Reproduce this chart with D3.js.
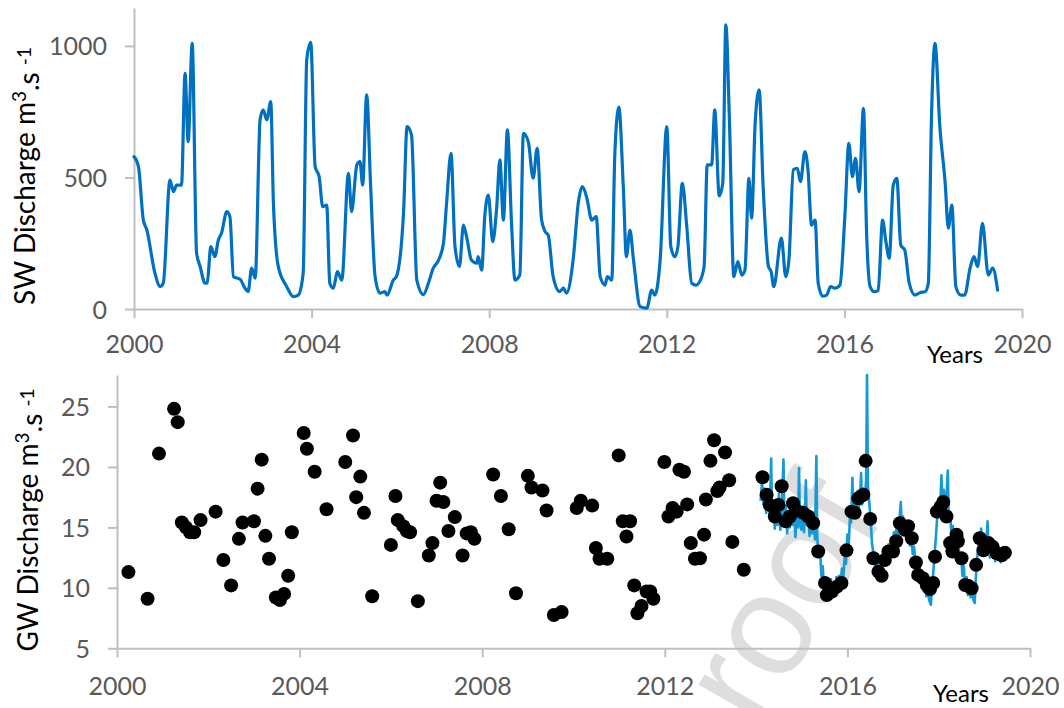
<!DOCTYPE html>
<html>
<head>
<meta charset="utf-8">
<script src="https://cdn.jsdelivr.net/npm/d3@7"></script>
<style>
  html, body { margin: 0; padding: 0; background: #fff; }
  svg { display: block; }
  text { font-family: Lato, "Open Sans", sans-serif; }
</style>
</head>
<body>
<svg id="chart" width="1064" height="708"></svg>
<script>
// ---------------- DATA ----------------
const xTickYears = [2000, 2004, 2008, 2012, 2016, 2020];
const swTicks = [0, 500, 1000];
const gwTicks = [5, 10, 15, 20, 25];

// Surface-water discharge (m3/s)
const swYears = [2000.00,2000.10,2000.21,2000.29,2000.47,2000.59,2000.66,2000.81,2000.89,2000.96,2001.07,2001.15,2001.22,2001.31,2001.41,2001.49,2001.60,2001.65,2001.73,2001.82,2001.90,2001.97,2002.09,2002.16,2002.24,2002.39,2002.50,2002.57,2002.65,2002.73,2002.84,2002.91,2002.99,2003.08,2003.14,2003.25,2003.44,2003.59,2003.70,2003.81,2003.89,2003.98,2004.08,2004.17,2004.25,2004.34,2004.41,2004.49,2004.58,2004.68,2004.83,2004.90,2005.02,2005.09,2005.15,2005.24,2005.33,2005.43,2005.54,2005.65,2005.70,2005.84,2005.91,2006.07,2006.15,2006.25,2006.37,2006.52,2006.63,2006.74,2006.86,2006.97,2007.04,2007.14,2007.23,2007.33,2007.42,2007.49,2007.60,2007.72,2007.75,2007.83,2007.90,2007.98,2008.08,2008.17,2008.24,2008.32,2008.41,2008.50,2008.58,2008.69,2008.77,2008.88,2008.99,2009.08,2009.18,2009.26,2009.33,2009.44,2009.59,2009.67,2009.74,2009.89,2010.01,2010.10,2010.20,2010.31,2010.41,2010.50,2010.61,2010.66,2010.76,2010.83,2010.92,2011.02,2011.09,2011.17,2011.25,2011.40,2011.55,2011.66,2011.73,2011.85,2012.00,2012.09,2012.18,2012.25,2012.35,2012.45,2012.56,2012.66,2012.74,2012.84,2012.91,2013.01,2013.08,2013.18,2013.26,2013.33,2013.41,2013.51,2013.60,2013.69,2013.76,2013.85,2013.91,2013.99,2014.08,2014.17,2014.29,2014.35,2014.41,2014.58,2014.68,2014.75,2014.85,2014.94,2015.01,2015.11,2015.18,2015.26,2015.34,2015.41,2015.51,2015.60,2015.69,2015.79,2015.90,2016.01,2016.10,2016.18,2016.25,2016.33,2016.43,2016.50,2016.58,2016.67,2016.76,2016.86,2016.93,2017.01,2017.10,2017.18,2017.27,2017.36,2017.46,2017.59,2017.70,2017.82,2017.89,2017.96,2018.04,2018.15,2018.27,2018.34,2018.42,2018.51,2018.62,2018.71,2018.83,2018.92,2019.00,2019.11,2019.24,2019.34,2019.45];
const swValues = [579,541,338,300,137,85,99,490,446,471,471,896,636,1010,212,161,98,100,237,199,262,288,370,351,123,113,79,66,155,117,719,757,719,788,403,161,85,47,53,136,947,1013,541,503,389,395,98,79,142,110,516,370,548,560,471,814,465,123,60,66,53,110,123,364,693,662,110,55,98,155,186,250,402,592,237,161,319,275,186,174,199,148,351,433,256,389,567,338,681,338,110,129,668,636,497,611,338,294,281,123,66,79,60,186,408,465,421,338,351,123,91,123,110,592,767,465,199,300,186,9,3,72,53,186,693,237,199,237,478,313,98,91,104,161,548,548,757,430,478,1080,719,123,180,129,148,497,345,706,833,465,161,142,85,269,123,186,529,535,484,598,529,319,338,98,49,53,85,79,91,351,630,503,573,446,763,288,85,66,70,338,262,193,471,497,243,224,98,53,62,66,98,719,1010,693,478,307,395,85,53,53,155,199,161,326,129,155,72];

// Groundwater discharge observations (m3/s)
const gwObsYears = [2000.25,2000.67,2000.92,2001.25,2001.33,2001.42,2001.51,2001.60,2001.69,2001.83,2002.16,2002.33,2002.50,2002.67,2002.75,2003.00,2003.08,2003.17,2003.25,2003.33,2003.48,2003.57,2003.66,2003.75,2003.83,2004.09,2004.16,2004.33,2004.59,2005.00,2005.17,2005.24,2005.33,2005.41,2005.59,2006.00,2006.10,2006.15,2006.27,2006.35,2006.42,2006.59,2006.83,2006.91,2007.00,2007.08,2007.15,2007.26,2007.40,2007.57,2007.66,2007.75,2007.83,2008.24,2008.41,2008.58,2008.74,2009.00,2009.08,2009.32,2009.41,2009.57,2009.74,2010.07,2010.16,2010.41,2010.49,2010.57,2010.74,2010.99,2011.08,2011.16,2011.24,2011.33,2011.40,2011.49,2011.60,2011.68,2011.75,2011.99,2012.08,2012.17,2012.26,2012.32,2012.42,2012.49,2012.57,2012.66,2012.77,2012.86,2012.90,2013.00,2013.08,2013.15,2013.20,2013.32,2013.41,2013.48,2013.73,2014.14,2014.23,2014.30,2014.41,2014.49,2014.56,2014.65,2014.74,2014.81,2014.88,2015.03,2015.14,2015.25,2015.36,2015.51,2015.55,2015.66,2015.77,2015.87,2015.98,2016.09,2016.16,2016.24,2016.35,2016.40,2016.50,2016.57,2016.68,2016.75,2016.82,2016.90,2017.00,2017.07,2017.15,2017.26,2017.33,2017.41,2017.50,2017.55,2017.65,2017.74,2017.81,2017.88,2017.92,2017.96,2018.04,2018.10,2018.17,2018.25,2018.30,2018.39,2018.42,2018.50,2018.58,2018.65,2018.72,2018.82,2018.90,2018.98,2019.09,2019.18,2019.27,2019.38,2019.45];
const gwObsValues = [11.3,9.1,21.1,24.8,23.7,15.4,15.0,14.6,14.6,15.6,16.3,12.3,10.2,14.05,15.4,15.5,18.2,20.6,14.3,12.4,9.2,9.0,9.5,11.0,14.6,22.8,21.5,19.6,16.5,20.4,22.6,17.5,19.2,16.2,9.3,13.55,17.6,15.6,15.1,14.7,14.6,8.9,12.67,13.7,17.2,18.7,17.1,14.7,15.85,12.67,14.5,14.6,14.05,19.37,17.6,14.85,9.55,19.26,18.3,18.05,16.4,7.75,8.0,16.6,17.2,16.8,13.3,12.4,12.4,20.95,15.5,14.25,15.5,10.2,7.9,8.5,9.7,9.7,9.1,20.4,15.9,16.6,16.3,19.76,19.6,16.9,13.7,12.4,12.45,14.4,17.3,20.5,22.2,18.0,18.3,21.2,18.9,13.8,11.5,19.15,17.7,16.86,15.9,16.86,18.4,15.5,15.9,17.0,16.4,16.2,15.9,15.35,13.0,10.4,9.4,9.7,10.1,10.4,13.1,16.3,16.2,17.4,17.7,20.5,15.7,12.45,11.34,11.0,12.3,13.0,13.0,13.85,15.35,14.8,15.1,14.1,12.1,11.07,10.8,10.24,9.9,10.4,12.58,16.3,16.7,17.1,15.9,13.7,13.0,14.4,13.85,12.45,10.24,10.15,9.96,11.9,14.1,13.1,13.7,13.4,12.86,12.7,12.9];

// Groundwater discharge, continuous series (m3/s)
const gwLineYears = [2014.10,2014.13,2014.16,2014.19,2014.22,2014.26,2014.30,2014.33,2014.35,2014.38,2014.41,2014.44,2014.47,2014.50,2014.53,2014.56,2014.60,2014.62,2014.65,2014.68,2014.71,2014.74,2014.77,2014.80,2014.83,2014.86,2014.89,2014.92,2014.94,2014.96,2014.99,2015.02,2015.05,2015.07,2015.09,2015.11,2015.14,2015.17,2015.20,2015.23,2015.26,2015.29,2015.32,2015.34,2015.37,2015.40,2015.43,2015.46,2015.49,2015.52,2015.55,2015.58,2015.61,2015.64,2015.67,2015.70,2015.73,2015.76,2015.79,2015.82,2015.85,2015.88,2015.91,2015.94,2015.97,2016.00,2016.03,2016.06,2016.08,2016.11,2016.13,2016.16,2016.19,2016.22,2016.25,2016.28,2016.30,2016.32,2016.35,2016.38,2016.41,2016.43,2016.45,2016.48,2016.51,2016.54,2016.57,2016.60,2016.63,2016.66,2016.69,2016.72,2016.75,2016.78,2016.81,2016.84,2016.87,2016.90,2016.93,2016.96,2016.99,2017.02,2017.05,2017.08,2017.11,2017.14,2017.17,2017.19,2017.22,2017.25,2017.28,2017.31,2017.34,2017.37,2017.40,2017.43,2017.46,2017.49,2017.52,2017.55,2017.58,2017.61,2017.64,2017.67,2017.70,2017.73,2017.76,2017.79,2017.83,2017.85,2017.88,2017.91,2017.94,2017.97,2018.00,2018.03,2018.06,2018.08,2018.11,2018.14,2018.17,2018.20,2018.22,2018.25,2018.28,2018.31,2018.34,2018.37,2018.40,2018.43,2018.46,2018.49,2018.52,2018.55,2018.58,2018.61,2018.64,2018.67,2018.70,2018.73,2018.76,2018.79,2018.81,2018.84,2018.87,2018.90,2018.93,2018.96,2018.99,2019.02,2019.05,2019.07,2019.09,2019.12,2019.15,2019.18,2019.21,2019.24,2019.27,2019.30,2019.33,2019.36,2019.39,2019.42,2019.45];
const gwLineValues = [17.2,18.8,16.9,18.2,16.2,17.6,15.8,20.7,15.6,16.9,14.9,16.6,15.2,17.8,14.8,16.2,20.6,15.4,16.8,14.5,16.0,15.0,17.4,15.2,16.6,14.2,16.0,15.0,19.9,15.6,14.8,16.5,14.6,16.0,18.9,15.2,16.4,14.3,15.8,14.5,16.2,14.0,20.9,14.2,12.6,13.3,11.0,11.8,9.6,10.5,9.0,10.2,9.3,10.7,9.4,10.4,9.6,10.9,9.7,11.0,10.2,11.6,10.8,12.6,12.0,14.4,13.6,16.2,15.4,19.1,16.0,17.4,15.8,18.0,16.6,17.8,19.5,16.9,18.2,17.2,18.9,27.6,18.4,17.0,15.6,13.6,12.9,12.3,11.2,12.0,10.9,11.7,11.4,12.6,11.9,13.1,12.3,13.6,12.9,14.1,13.2,14.6,13.8,15.2,14.3,15.6,17.1,14.8,15.9,14.4,15.4,14.0,14.9,13.5,14.3,12.8,13.4,11.9,12.4,10.9,11.7,10.3,11.1,9.7,10.5,9.3,10.2,9.0,8.6,10.1,11.2,12.8,14.3,16.0,17.3,16.4,19.3,16.8,18.1,16.2,17.6,19.7,15.6,16.3,14.2,15.1,13.4,14.6,12.9,13.8,12.0,12.8,11.0,11.8,9.8,10.9,9.4,10.6,9.2,10.3,9.0,8.75,10.6,12.3,13.6,12.9,14.9,13.4,14.4,13.0,14.0,15.5,13.4,12.5,13.6,12.6,13.4,12.2,13.2,12.4,13.0,12.1,12.9,12.3,12.7];

// ---------------- DRAWING ----------------
const svg = d3.select("#chart");
svg.append("rect").attr("width", 1064).attr("height", 708).attr("fill", "#fff");

const AXIS = "#bfbfbf", TICKTXT = "#595959";

// watermark (behind everything)
svg.append("text")
  .attr("transform", "translate(885,515) rotate(-60)")
  .attr("text-anchor", "end")
  .style("font-family", "'Liberation Sans', Arial, sans-serif")
  .style("font-size", "145px")
  .attr("fill", "#dedede")
  .text("proof");

function drawAxes(g, x, y, yTicks, xLabelOffset, yTitleX, yTitleY, prefix, yearsPos) {
  const xAxis = d3.axisBottom(x).tickValues(xTickYears).tickSize(9).tickSizeOuter(0).tickFormat(d3.format("d"));
  const yAxis = d3.axisLeft(y).tickValues(yTicks).tickSize(9).tickSizeOuter(0).tickPadding(18).tickFormat(d3.format("d"));

  const gx = g.append("g").attr("transform", `translate(0,${y.range()[0]})`).call(xAxis);
  gx.select(".domain").attr("stroke", AXIS).attr("stroke-width", 2);
  gx.selectAll(".tick line").attr("stroke", AXIS).attr("stroke-width", 2);
  gx.selectAll(".tick text").attr("y", xLabelOffset).attr("dy", 0)
    .attr("fill", TICKTXT).style("font-size", "25px").style("font-family", "Lato, sans-serif");

  const gy = g.append("g").attr("transform", `translate(${x.range()[0]},0)`).call(yAxis);
  gy.select(".domain").attr("stroke", AXIS).attr("stroke-width", 2);
  gy.selectAll(".tick line").attr("stroke", AXIS).attr("stroke-width", 2);
  gy.selectAll(".tick text").attr("fill", TICKTXT).attr("dy", "0.36em")
    .style("font-size", "25px").style("font-family", "Lato, sans-serif");

  const t = g.append("text")
    .attr("transform", `translate(${yTitleX},${yTitleY}) rotate(-90)`)
    .attr("text-anchor", "middle")
    .attr("fill", "#000")
    .style("font-size", "28px");
  t.append("tspan").text(prefix + " Discharge m");
  t.append("tspan").attr("dy", "-0.45em").style("font-size", "19px").text("3");
  t.append("tspan").attr("dy", "0.45em").text(".s ");
  t.append("tspan").attr("dy", "-0.45em").style("font-size", "19px").text("-1");

  g.append("text").attr("x", yearsPos[0]).attr("y", yearsPos[1])
    .attr("fill", "#000").style("font-size", "24px").text("Years");
}

// ---- top panel
const xTop = d3.scaleLinear().domain([2000, 2020]).range([134, 1022]);
const yTop = d3.scaleLinear().domain([0, 1144]).range([309, 8]);
const gTop = svg.append("g");
drawAxes(gTop, xTop, yTop, swTicks, 44, 35, 176, "SW", [927, 363]);

const swData = swYears.map((yr, i) => ({ x: yr, y: swValues[i] }));
gTop.append("path").datum(swData)
  .attr("fill", "none").attr("stroke", "#0070c0").attr("stroke-width", 3.2)
  .attr("stroke-linejoin", "round").attr("stroke-linecap", "round")
  .attr("d", d3.line().x(d => xTop(d.x)).y(d => yTop(d.y)).curve(d3.curveMonotoneX));

// ---- bottom panel
const xBot = d3.scaleLinear().domain([2000, 2020]).range([117, 1030]);
const yBot = d3.scaleLinear().domain([5, 27.6]).range([648.3, 375]);
const gBot = svg.append("g");
drawAxes(gBot, xBot, yBot, gwTicks, 47, 38, 520, "GW", [933, 702]);

const gwLine = gwLineYears.map((yr, i) => ({ x: yr, y: gwLineValues[i] }));
gBot.append("path").datum(gwLine)
  .attr("fill", "none").attr("stroke", "#149bd7").attr("stroke-width", 2.6)
  .attr("stroke-linejoin", "round")
  .attr("d", d3.line().x(d => xBot(d.x)).y(d => yBot(d.y)));

const gwObs = gwObsYears.map((yr, i) => ({ x: yr, y: gwObsValues[i] }));
gBot.append("g").selectAll("circle").data(gwObs).join("circle")
  .attr("cx", d => xBot(d.x)).attr("cy", d => yBot(d.y)).attr("r", 7)
  .attr("fill", "#000");
</script>
</body>
</html>
